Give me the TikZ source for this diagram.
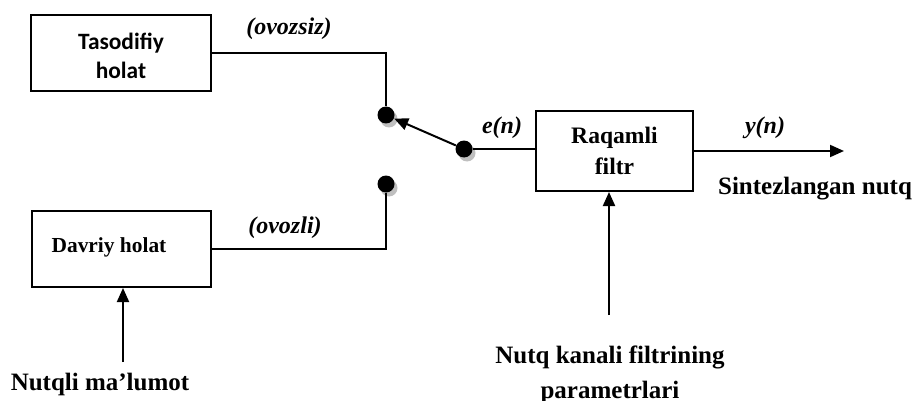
\documentclass[tikz,border=0pt]{standalone}
\usepackage{fontspec}
\setmainfont{Liberation Serif}
\newfontfamily\calibrifont{Carlito}
\usetikzlibrary{arrows.meta,shadows}
\begin{document}
\begin{tikzpicture}[x=0.5pt,y=-0.5pt,
  box/.style={draw,line width=1pt,rectangle,inner sep=0pt,align=center,font=\bfseries},
  dot/.style={circle,fill=black,inner sep=0pt,minimum size=8.5pt,
    drop shadow={shadow xshift=1.5pt,shadow yshift=-2pt,fill=black!25,opacity=1}},
  wire/.style={line width=1pt},
  arr/.style={line width=1pt,-{Triangle[length=7pt,width=6pt]}},
  lbl/.style={font=\fontsize{12}{14}\selectfont\bfseries\itshape,inner sep=0pt},
  txt/.style={font=\fontsize{12.5}{17.5}\selectfont\bfseries,align=center,inner sep=0pt}]
\useasboundingbox (0,0) rectangle (915,401);
% boxes
\node[box,minimum width=90pt,minimum height=38pt,font=\fontsize{11.7}{14.5}\selectfont\calibrifont\bfseries] (tas) at (121,53) {};
\node[inner sep=0pt,align=center,font=\fontsize{11.7}{14.5}\selectfont\calibrifont\bfseries] (tastxt) at (121,56) {Tasodifiy\\holat};
\node[box,minimum width=89.5pt,minimum height=38pt] (dav) at (121.5,249) {};
\node[inner sep=0pt,font=\fontsize{10.7}{13}\selectfont\bfseries] (davtxt) at (109,247) {Davriy holat};
\node[box,minimum width=78.5pt,minimum height=40pt,font=\fontsize{11.8}{15.5}\selectfont\bfseries] (raq) at (614.5,151) {Raqamli\\filtr};
% switch dots
\node[dot] (dtop) at (386,115) {};
\node[dot] (dbot) at (386,184) {};
\node[dot] (darm) at (464,149) {};
% free ends
\coordinate (out) at (844,151);
\coordinate (pin) at (609,315);
\coordinate (src) at (123,362);
% connectors
\draw[wire] (tas.east) -| (dtop.north);
\draw[wire] (dav.east) -| (dbot.south);
\draw[arr] (darm) -- (dtop);
\draw[wire] (darm.east) -- (darm.east -| raq.west);
\draw[arr] (raq.east) -- (out);
\draw[arr] (pin) -- (pin |- raq.south);
\draw[arr] (src) -- (src |- dav.south);
% labels
\node[lbl] (l1) at (289,29) {(ovozsiz)};
\node[lbl] (l2) at (285,228) {(ovozli)};
\node[lbl] (l3) at (502,128) {e(n)};
\node[lbl] (l4) at (765,128) {y(n)};
\node[txt] (t1) at (815,189) {Sintezlangan nutq};
\node[txt] (t2) at (610,375) {Nutq kanali filtrining\\parametrlari};
\node[txt] (t3) at (100,384) {Nutqli ma’lumot};
\end{tikzpicture}
\end{document}
